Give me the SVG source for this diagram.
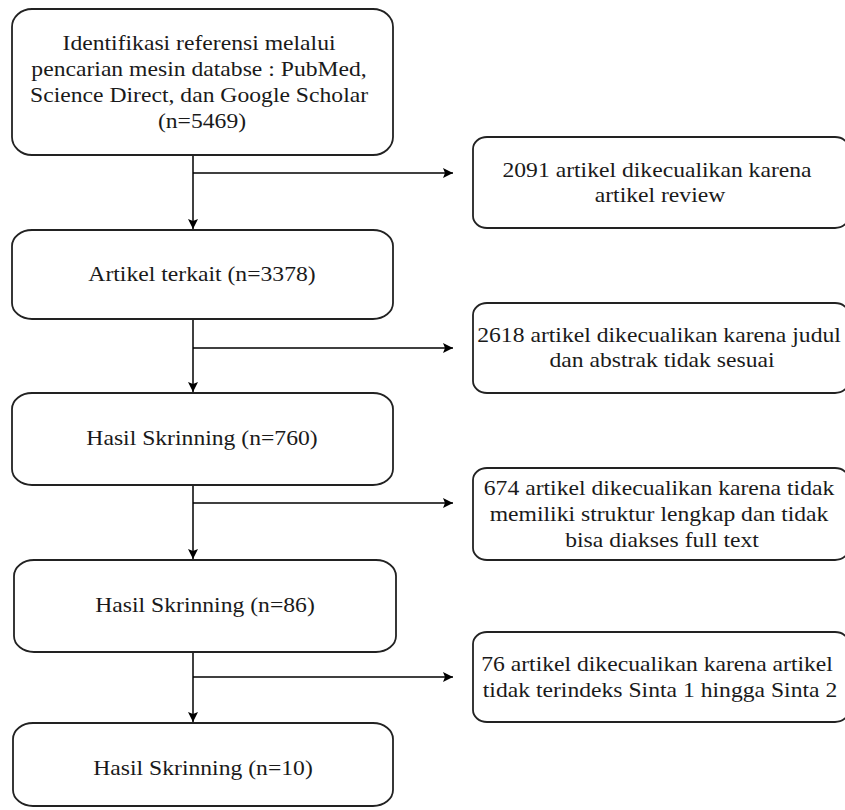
<svg xmlns="http://www.w3.org/2000/svg" width="845" height="810" viewBox="0 0 845 810">
  <defs>
    <marker id="arr" viewBox="0 0 10 10" refX="10" refY="5" markerWidth="10" markerHeight="10" markerUnits="userSpaceOnUse" orient="auto">
      <path d="M0,0 L10,5 L0,10 L2,5 Z" fill="#000"/>
    </marker>
    <style>
      .box { fill: #fff; stroke: #222; stroke-width: 1.8; }
      .lbl { font-size: 22px; fill: #1a1a1a; text-anchor: middle; }
      .edge { fill: none; stroke: #000; stroke-width: 1.5; marker-end: url(#arr); }
    </style>
  </defs>
  <rect x="0" y="0" width="845" height="810" fill="#fff"/>

  <g id="connectors">
    <path class="edge" d="M193,155 L193,229"/>
    <path class="edge" d="M193,319 L193,392"/>
    <path class="edge" d="M193,485 L193,559"/>
    <path class="edge" d="M193,652 L193,722"/>
    <path class="edge" d="M193,173 L453,173"/>
    <path class="edge" d="M193,348 L453,348"/>
    <path class="edge" d="M193,503 L453,503"/>
    <path class="edge" d="M193,677 L453,677"/>
  </g>

  <g font-family="Liberation Serif, DejaVu Serif, serif">
  <g id="n1">
    <rect class="box" x="12" y="9" width="381" height="146" rx="20" ry="18"/>
    <text class="lbl" transform="translate(202,50) scale(1.075,1)">
      <tspan x="0" dy="0">Identifikasi referensi melalui</tspan>
      <tspan x="0" dy="26">pencarian mesin databse : PubMed,</tspan>
      <tspan x="0" dy="26">Science Direct, dan Google Scholar</tspan>
      <tspan x="0" dy="26">(n=5469)</tspan>
    </text>
  </g>

  <g id="n2">
    <rect class="box" x="12" y="230" width="381" height="89" rx="20" ry="16"/>
    <text class="lbl" transform="translate(202,281) scale(1.075,1)">Artikel terkait (n=3378)</text>
  </g>

  <g id="n3">
    <rect class="box" x="12" y="393" width="381" height="92" rx="20" ry="16"/>
    <text class="lbl" transform="translate(202,445) scale(1.075,1)">Hasil Skrinning (n=760)</text>
  </g>

  <g id="n4">
    <rect class="box" x="14" y="560" width="382" height="92" rx="20" ry="16"/>
    <text class="lbl" transform="translate(205,612) scale(1.075,1)">Hasil Skrinning (n=86)</text>
  </g>

  <g id="n5">
    <rect class="box" x="13" y="723" width="380" height="83" rx="20" ry="16"/>
    <text class="lbl" transform="translate(203,775) scale(1.075,1)">Hasil Skrinning (n=10)</text>
  </g>

  <g id="x1">
    <rect class="box" x="473" y="137" width="376" height="91" rx="14" ry="12"/>
    <text class="lbl" transform="translate(660,177) scale(1.075,1)">
      <tspan x="0" dy="0">2091 artikel dikecualikan karena</tspan>
      <tspan x="0" dy="25.5">artikel review</tspan>
    </text>
  </g>

  <g id="x2">
    <rect class="box" x="473" y="303" width="376" height="90" rx="14" ry="12"/>
    <text class="lbl" transform="translate(662,342) scale(1.075,1)">
      <tspan x="0" dy="0">2618 artikel dikecualikan karena judul</tspan>
      <tspan x="0" dy="25.5">dan abstrak tidak sesuai</tspan>
    </text>
  </g>

  <g id="x3">
    <rect class="box" x="473" y="468" width="376" height="92" rx="14" ry="12"/>
    <text class="lbl" transform="translate(662,495) scale(1.075,1)">
      <tspan x="0" dy="0">674 artikel dikecualikan karena tidak</tspan>
      <tspan x="0" dy="26">memiliki struktur lengkap dan tidak</tspan>
      <tspan x="0" dy="26">bisa diakses full text</tspan>
    </text>
  </g>

  <g id="x4">
    <rect class="box" x="473" y="632" width="376" height="90" rx="14" ry="12"/>
    <text class="lbl" transform="translate(660,671) scale(1.075,1)">
      <tspan x="0" dy="0">76 artikel dikecualikan karena artikel</tspan>
      <tspan x="0" dy="26">tidak terindeks Sinta 1 hingga Sinta 2</tspan>
    </text>
  </g>
  </g>
</svg>
